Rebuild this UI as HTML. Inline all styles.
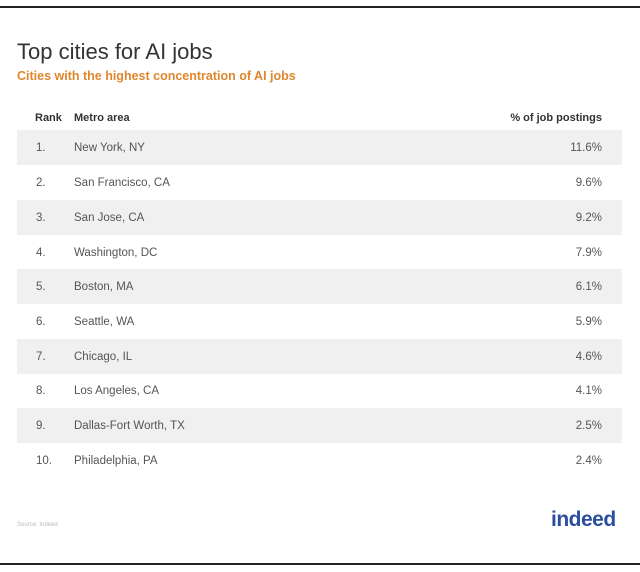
<!DOCTYPE html><html><head><style>
body{margin:0;width:640px;height:572px;background:#fff;font-family:"Liberation Sans",sans-serif;position:relative;overflow:hidden}
.bt{position:absolute;left:0;width:640px;height:2px;background:#222}
.t{position:absolute;white-space:nowrap}
.row{position:absolute;left:17px;width:605px;height:35px}
.row.s{background:#f0f0f0}
.row span{position:absolute;top:12px;font-size:11.5px;color:#555}
</style></head><body>
<div class="bt" style="top:6px"></div>
<div class="bt" style="top:563px"></div>
<div class="t" style="left:17px;top:39px;font-size:22px;color:#333">Top cities for AI jobs</div>
<div class="t" style="left:17px;top:69px;font-size:12.5px;color:#e0872e;font-weight:bold">Cities with the highest concentration of AI jobs</div>
<div class="t" style="left:35px;top:112px;font-size:11px;color:#333;font-weight:bold">Rank</div>
<div class="t" style="left:74px;top:112px;font-size:11px;color:#333;font-weight:bold">Metro area</div>
<div class="t" style="right:38px;top:112px;font-size:11px;color:#333;font-weight:bold">% of job postings</div>
<div class="row s" style="top:130px"><span style="left:19px">1.</span><span style="left:57px">New York, NY</span><span style="right:20px">11.6%</span></div>
<div class="row" style="top:165px"><span style="left:19px">2.</span><span style="left:57px">San Francisco, CA</span><span style="right:20px">9.6%</span></div>
<div class="row s" style="top:200px"><span style="left:19px">3.</span><span style="left:57px">San Jose, CA</span><span style="right:20px">9.2%</span></div>
<div class="row" style="top:235px"><span style="left:19px">4.</span><span style="left:57px">Washington, DC</span><span style="right:20px">7.9%</span></div>
<div class="row s" style="top:269px"><span style="left:19px">5.</span><span style="left:57px">Boston, MA</span><span style="right:20px">6.1%</span></div>
<div class="row" style="top:304px"><span style="left:19px">6.</span><span style="left:57px">Seattle, WA</span><span style="right:20px">5.9%</span></div>
<div class="row s" style="top:339px"><span style="left:19px">7.</span><span style="left:57px">Chicago, IL</span><span style="right:20px">4.6%</span></div>
<div class="row" style="top:373px"><span style="left:19px">8.</span><span style="left:57px">Los Angeles, CA</span><span style="right:20px">4.1%</span></div>
<div class="row s" style="top:408px"><span style="left:19px">9.</span><span style="left:57px">Dallas-Fort Worth, TX</span><span style="right:20px">2.5%</span></div>
<div class="row" style="top:443px"><span style="left:19px">10.</span><span style="left:57px">Philadelphia, PA</span><span style="right:20px">2.4%</span></div>
<div class="t" style="left:17px;top:522px;font-size:6px;color:#bbb">Source: Indeed</div>
<div class="t" style="left:551px;top:508px;font-size:21px;color:#2b4ea0;font-weight:bold;letter-spacing:-0.5px">indeed</div>
</body></html>
